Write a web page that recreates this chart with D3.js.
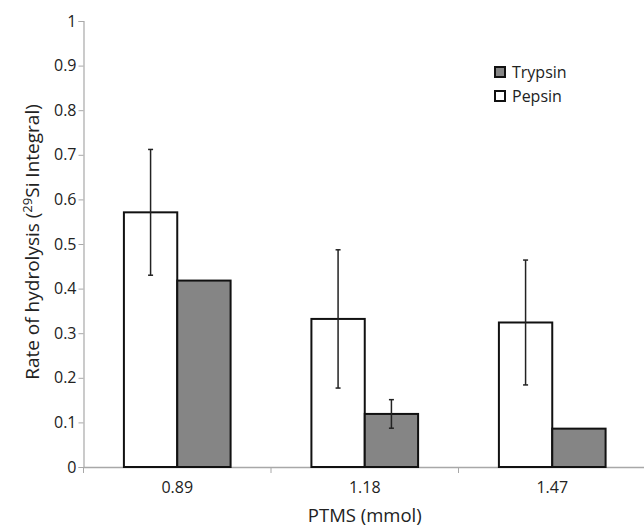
<!DOCTYPE html>
<html>
<head>
<meta charset="utf-8">
<script src="https://cdn.jsdelivr.net/npm/d3@7"></script>
<style>
  body { margin: 0; background: #fff; }
  text { font-family: "Open Sans", sans-serif; fill: #222; }
</style>
</head>
<body>
<div id="chart"></div>
<script>
// data
const categories = ["0.89", "1.18", "1.47"]
const seriesNames = ["Pepsin", "Trypsin"]
const pepsin = [0.571, 0.332, 0.324]
const pepsinErr = [0.141, 0.155, 0.140]
const trypsin = [0.418, 0.119, 0.086]
const trypsinErr = [null, 0.032, null]
const yTicks = [0, 0.1, 0.2, 0.3, 0.4, 0.5, 0.6, 0.7, 0.8, 0.9, 1]

const rows = categories.map((c, i) => ({
  category: c,
  values: [
    { series: "Pepsin", value: pepsin[i], err: pepsinErr[i] },
    { series: "Trypsin", value: trypsin[i], err: trypsinErr[i] },
  ],
}))

let dimensions = {
  width: 644,
  height: 527,
  margin: { top: 21, right: -2, bottom: 60, left: 83.5 },
}
dimensions.boundedWidth = dimensions.width - dimensions.margin.left - dimensions.margin.right
dimensions.boundedHeight = dimensions.height - dimensions.margin.top - dimensions.margin.bottom

const svg = d3.select("#chart")
  .append("svg")
    .attr("width", dimensions.width)
    .attr("height", dimensions.height)

const bounds = svg.append("g")
    .attr("transform", `translate(${dimensions.margin.left}, ${dimensions.margin.top})`)

// scales
const xScale = d3.scaleBand()
  .domain(categories)
  .range([0, dimensions.boundedWidth])

const groupPad = xScale.bandwidth() * 0.2155
const xInner = d3.scaleBand()
  .domain(seriesNames)
  .range([groupPad, xScale.bandwidth() - groupPad])

const yScale = d3.scaleLinear()
  .domain([0, 1])
  .range([dimensions.boundedHeight, 0])

const colors = { Pepsin: "#ffffff", Trypsin: "#858585" }

// axes
const yAxis = bounds.append("g")
  .call(d3.axisLeft(yScale).tickValues(yTicks).tickFormat(d3.format("")).tickSize(5).tickPadding(2))
yAxis.select(".domain").attr("stroke", "#a8a8a8").attr("stroke-width", 1.2)
yAxis.selectAll(".tick line").attr("stroke", "#a8a8a8")
yAxis.selectAll(".tick text").style("font-size", "16px").attr("fill", "#222")

const xAxis = bounds.append("g")
  .attr("transform", `translate(0, ${dimensions.boundedHeight})`)
  .call(d3.axisBottom(xScale).tickSize(0).tickPadding(15))
xAxis.select(".domain").attr("stroke", "#a8a8a8").attr("stroke-width", 1.5)
xAxis.selectAll(".tick text").style("font-size", "16px").attr("fill", "#222")

// category separators
bounds.append("g")
  .selectAll("line")
  .data(categories)
  .join("line")
    .attr("x1", d => xScale(d))
    .attr("x2", d => xScale(d))
    .attr("y1", dimensions.boundedHeight)
    .attr("y2", dimensions.boundedHeight + 6)
    .attr("stroke", "#a8a8a8")

// bars
const groups = bounds.append("g")
  .selectAll("g")
  .data(rows)
  .join("g")
    .attr("transform", d => `translate(${xScale(d.category)}, 0)`)

groups.selectAll("rect")
  .data(d => d.values)
  .join("rect")
    .attr("x", d => xInner(d.series))
    .attr("y", d => yScale(d.value))
    .attr("width", xInner.bandwidth())
    .attr("height", d => dimensions.boundedHeight - yScale(d.value))
    .attr("fill", d => colors[d.series])
    .attr("stroke", "#111")
    .attr("stroke-width", 2)

// error bars
const errs = groups.selectAll(".err")
  .data(d => d.values.filter(v => v.err != null))
  .join("g")
    .attr("class", "err")
    .attr("stroke", "#222")
    .attr("stroke-width", 1.5)

const cx = d => xInner(d.series) + xInner.bandwidth() / 2
errs.append("line")
    .attr("x1", cx).attr("x2", cx)
    .attr("y1", d => yScale(d.value + d.err))
    .attr("y2", d => yScale(d.value - d.err))
errs.selectAll(".cap")
  .data(d => [d.value + d.err, d.value - d.err].map(v => ({ x: cx(d), y: yScale(v) })))
  .join("line")
    .attr("class", "cap")
    .attr("x1", d => d.x - 2.5).attr("x2", d => d.x + 2.5)
    .attr("y1", d => d.y).attr("y2", d => d.y)

// axis titles
svg.append("text")
    .attr("x", dimensions.margin.left + xScale("1.18") + xScale.bandwidth() / 2)
    .attr("y", 522)
    .attr("text-anchor", "middle")
    .style("font-size", "18.5px")
    .text("PTMS (mmol)")

const yTitle = svg.append("text")
    .attr("transform", `translate(39, ${dimensions.margin.top + yScale(0.5) - 2}) rotate(-90)`)
    .attr("text-anchor", "middle")
    .style("font-size", "19px")
yTitle.append("tspan").text("Rate of hydrolysis (")
yTitle.append("tspan").text("29").attr("dy", -7).style("font-size", "13px")
yTitle.append("tspan").text("Si Integral)").attr("dy", 7)

// legend
const legend = svg.append("g")
    .attr("transform", "translate(495, 67)")
const legendItems = legend.selectAll("g")
  .data(["Trypsin", "Pepsin"])
  .join("g")
    .attr("transform", (d, i) => `translate(0, ${i * 24})`)
legendItems.append("rect")
    .attr("width", 10)
    .attr("height", 10)
    .attr("fill", d => colors[d])
    .attr("stroke", "#111")
    .attr("stroke-width", 2)
legendItems.append("text")
    .attr("x", 17)
    .attr("y", 11)
    .style("font-size", "16px")
    .text(d => d)
</script>
</body>
</html>
